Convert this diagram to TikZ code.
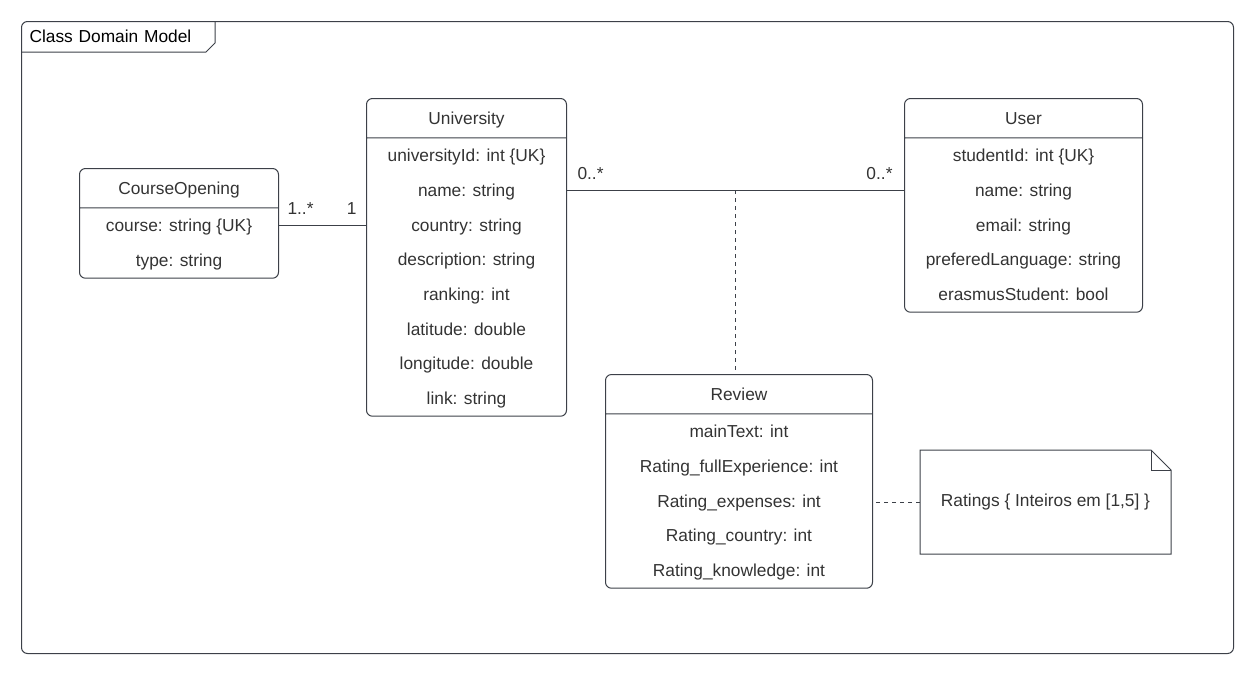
\documentclass[tikz,border=0pt]{standalone}
\usepackage{fontspec}
\setmainfont{Liberation Sans}
\usetikzlibrary{shapes.multipart,positioning,calc}
\definecolor{linegray}{RGB}{60,64,72}
\definecolor{textgray}{RGB}{51,51,51}
\newcommand{\umlfont}{\fontsize{13}{26}\selectfont}
\newcommand{\rowstrut}{\rule[-8.35pt]{0pt}{26pt}}
\newcommand{\headstrut}{\rule[-9.8pt]{0pt}{28.8pt}}

\begin{document}
\begin{tikzpicture}[x=0.75pt,y=-0.75pt,line width=0.75pt,
  umlclass/.style={rectangle split,rectangle split parts=2,draw=linegray,rounded corners=4.5pt,
    align=center,rectangle split part align=center,inner xsep=4pt,inner ysep=0pt,
    text=textgray,font=\umlfont,anchor=north west},
  mult/.style={text=textgray,font=\umlfont,inner sep=0pt},
  notebox/.style={text=textgray,font=\umlfont,minimum width=187.5pt,minimum height=77.25pt,anchor=north west},
  link/.style={draw=linegray,dash pattern=on 3pt off 3pt}]
\useasboundingbox (0,0) rectangle (1254,672);

% frame
\node[draw=linegray,rounded corners=4.5pt,minimum width=909pt,minimum height=474pt,anchor=north west] (frame) at (21,21) {};
\node[anchor=north west,font=\umlfont,text width=132.75pt,minimum height=22.5pt,inner xsep=6pt,inner ysep=0pt] (tab) at (frame.north west) {Class Domain Model};
\draw[linegray] (tab.south west) -- ([xshift=-6.75pt]tab.south east) -- ([yshift=6.75pt]tab.south east) -- (tab.north east);

% classes
\node[umlclass,minimum width=149.25pt] (co) at (79,168) {\headstrut CourseOpening
  \nodepart{second}\rowstrut course: string \{UK\}\\ \rowstrut type: string};
\node[umlclass,minimum width=150pt] (univ) at (366,98) {\headstrut University
  \nodepart{second}\rowstrut universityId: int \{UK\}\\ \rowstrut name: string\\ \rowstrut country: string\\
  \rowstrut description: string\\ \rowstrut ranking: int\\ \rowstrut latitude: double\\
  \rowstrut longitude: double\\ \rowstrut link: string};
\node[umlclass,minimum width=178.5pt] (user) at (904,98) {\headstrut User
  \nodepart{second}\rowstrut studentId: int \{UK\}\\ \rowstrut name: string\\ \rowstrut email: string\\
  \rowstrut preferedLanguage: string\\ \rowstrut erasmusStudent: bool};
\node[umlclass,minimum width=200.25pt] (review) at (605,374) {\headstrut Review
  \nodepart{second}\rowstrut mainText: int\\ \rowstrut Rating\_fullExperience: int\\ \rowstrut Rating\_expenses: int\\
  \rowstrut Rating\_country: int\\ \rowstrut Rating\_knowledge: int};

% note
\node[notebox] (note) at (920,450) {Ratings \{ Inteiros em [1,5] \}};
\draw[linegray] (note.south west) -- (note.north west) -- ([xshift=-15pt]note.north east)
  -- ([yshift=-15pt]note.north east) -- (note.south east) -- cycle;
\draw[linegray] ([xshift=-15pt]note.north east) |- ([yshift=-15pt]note.north east);

% associations
\draw[linegray] ([yshift=-1.9pt]co.east) coordinate (cA) -- (cA -| univ.west) coordinate (cB);
\node[mult,anchor=base west] (m1a) at ([xshift=6pt,yshift=8.25pt]cA) {1..*};
\node[mult,anchor=base east] (m1b) at ([xshift=-6.75pt,yshift=8.25pt]cB) {1};

\draw[linegray] ([yshift=-69pt]univ.north east) coordinate (uA) -- coordinate (mid)
  ([yshift=-69pt]user.north west) coordinate (uB);
\node[mult,anchor=base west] (m0a) at ([xshift=7.5pt,yshift=8.25pt]uA) {0..*};
\node[mult,anchor=base east] (m0b) at ([xshift=-8.25pt,yshift=8.25pt]uB) {0..*};
\draw[link] (mid) -- (mid |- review.north);

\draw[link] (note.west) -- (note.west -| review.east);
\end{tikzpicture}
\end{document}
